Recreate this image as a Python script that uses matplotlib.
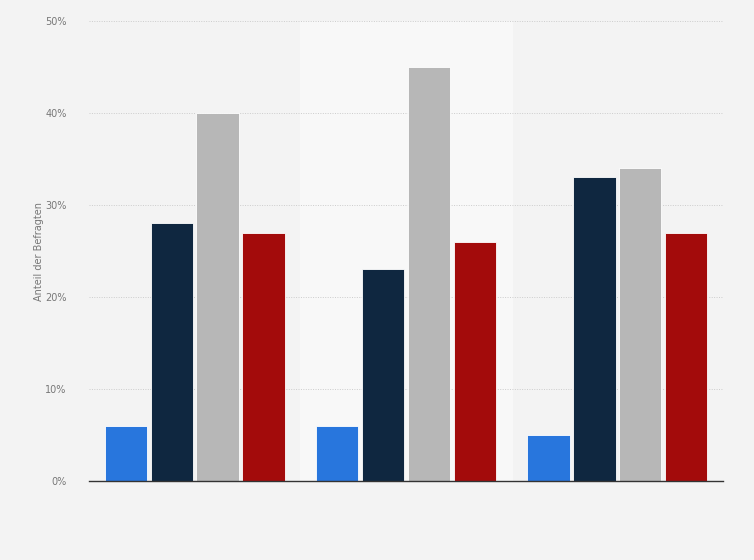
import matplotlib.pyplot as plt
import numpy as np


FILE = 'out.png'

GROUPS = ['A', 'B', 'C']
SERIES_VALUES = [
    [6, 6, 5],
    [28, 23, 33],
    [40, 45, 34],
    [27, 26, 27],
]
SERIES_COLORS = ['#2876dd', '#0f2740', '#b7b7b7', '#a30b0b']
Y_TICKS = [0, 10, 20, 30, 40, 50]


def main():
    fig = plt.figure(figsize=(7.54, 5.6), dpi=100)
    fig.patch.set_facecolor('#f3f3f3')
    ax = fig.add_axes([0.118, 0.141, 0.841, 0.8215])
    ax.set_facecolor('#f3f3f3')

    x = np.arange(len(GROUPS))
    slot = 0.217
    width = 0.2

    # lighter band behind the middle group
    ax.axvspan(0.5, 1.5, color='#f8f8f8', zorder=0)

    for i, (vals, col) in enumerate(zip(SERIES_VALUES, SERIES_COLORS)):
        offset = (i - 1.5) * slot
        ax.bar(x + offset, vals, width=width, color=col, edgecolor='white',
               linewidth=0.6, zorder=3)

    ax.set_xlim(-0.5, 2.5)
    ax.set_ylim(0, 50)
    ax.set_yticks(Y_TICKS)
    ax.set_yticklabels([f'{t}%' for t in Y_TICKS])
    ax.set_xticks([])

    ax.grid(axis='y', color='#cccccc', linestyle=(0, (1, 1.5)), linewidth=0.7, zorder=1)
    for side in ['top', 'right', 'left']:
        ax.spines[side].set_visible(False)
    ax.spines['bottom'].set_color('#333333')
    ax.spines['bottom'].set_linewidth(1.0)
    ax.spines['bottom'].set_zorder(4)

    ax.tick_params(axis='y', length=0, labelsize=7, labelcolor='#777777', pad=16)
    ax.set_ylabel('Anteil der Befragten', fontsize=7, color='#777777', labelpad=1)

    fig.savefig(FILE, dpi=100, facecolor=fig.get_facecolor())


if __name__ == '__main__':
    main()
